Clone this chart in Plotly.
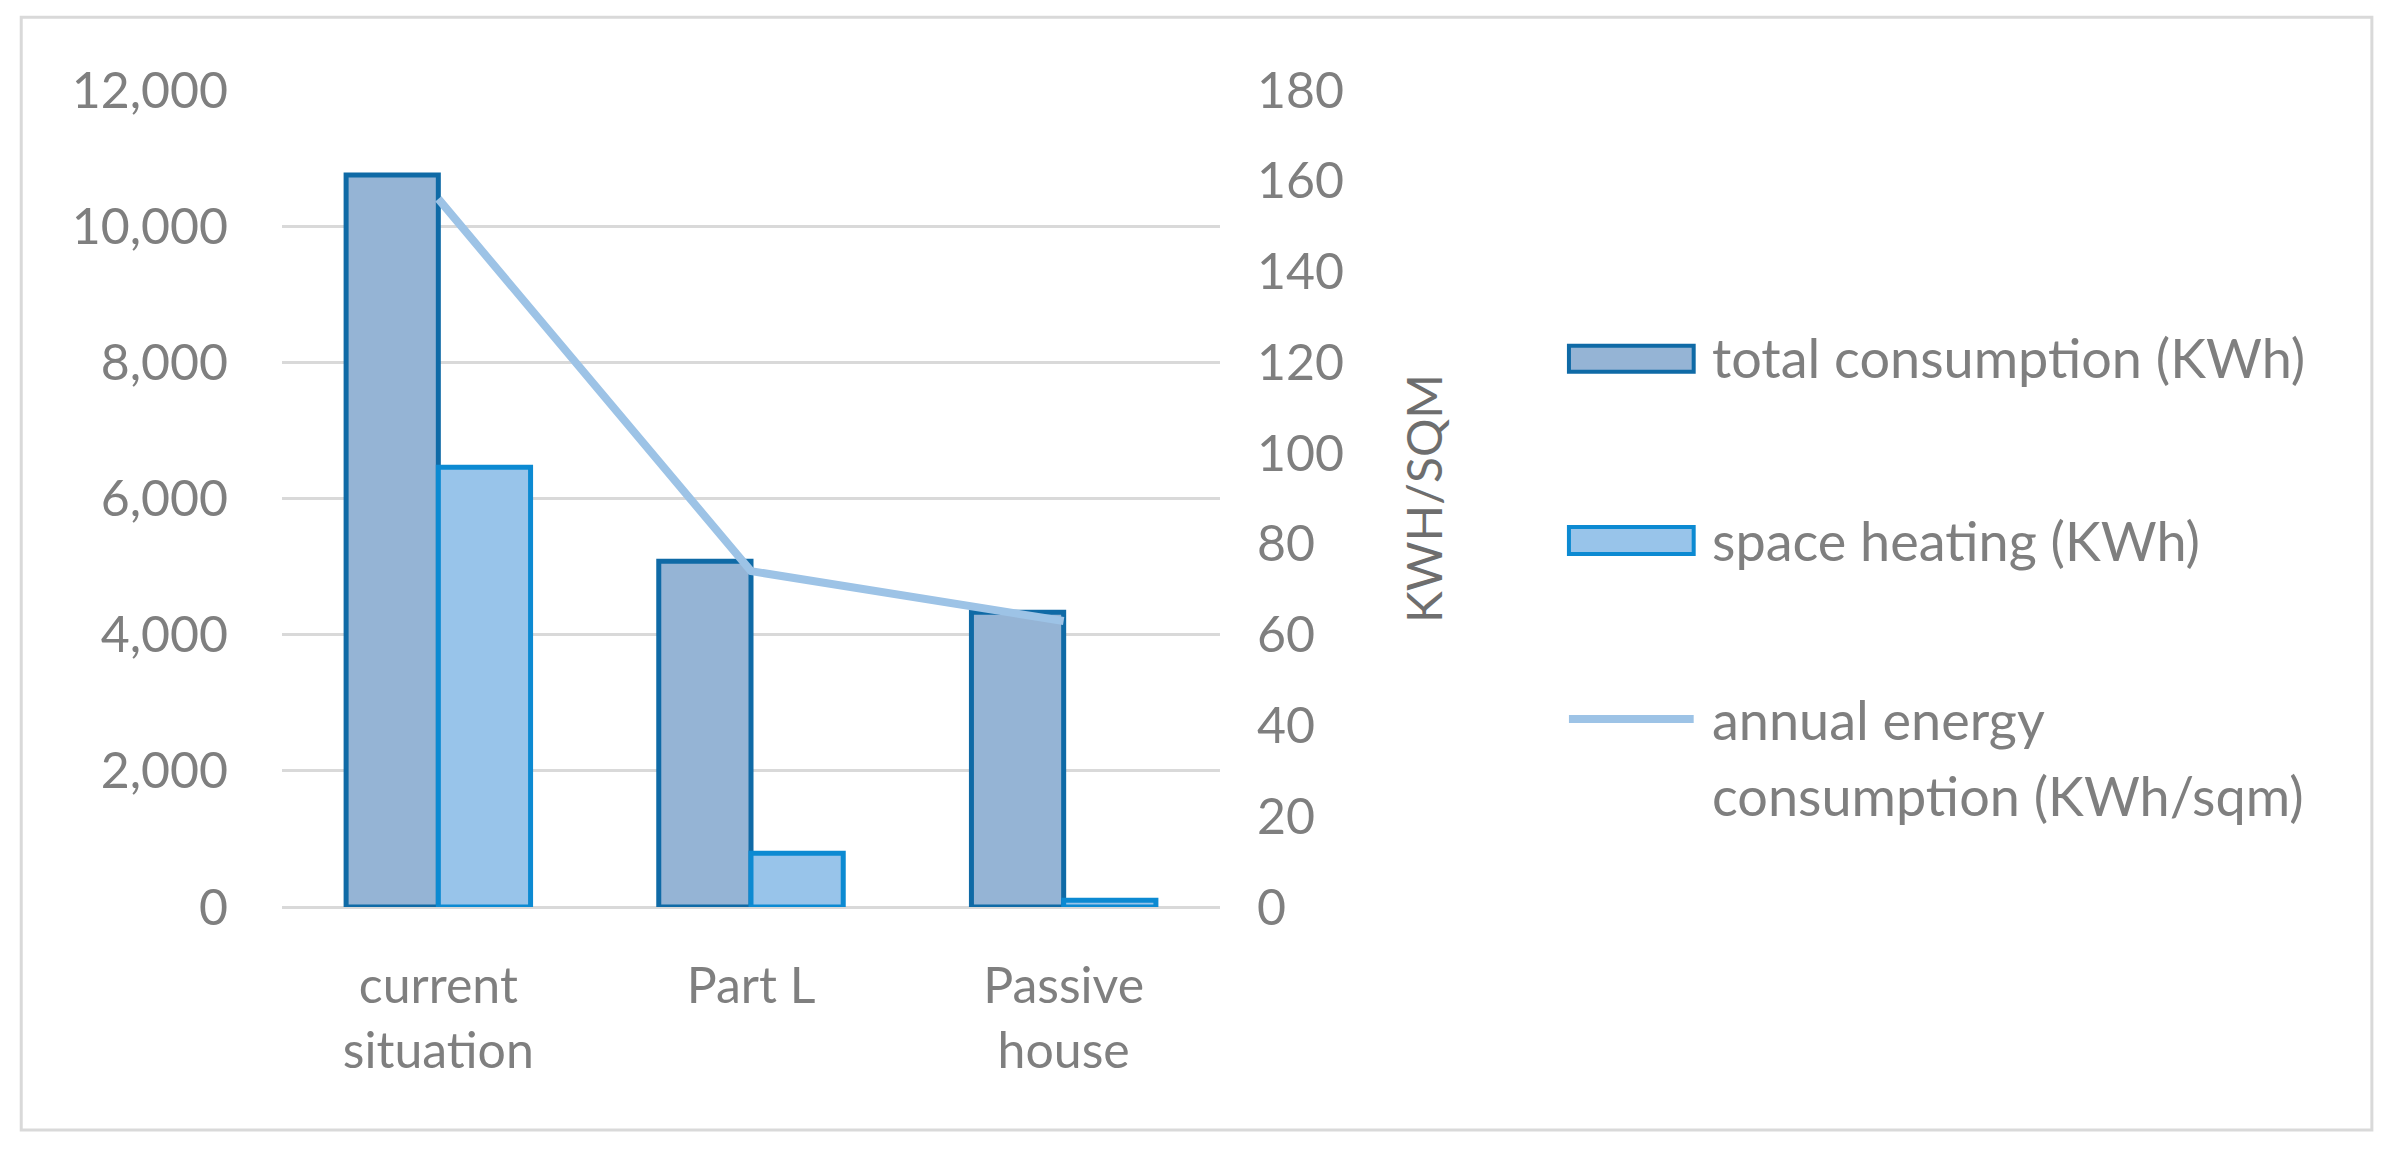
"""Energy consumption comparison: bars (KWh) plus line (KWh/sqm) on a second axis."""

import plotly.graph_objects as go

categorias = ["current<br>situation", "Part L", "Passive<br>house"]
total_kwh = [10750, 5080, 4330]
calefaccion_kwh = [6460, 790, 100]
anual_kwh_sqm = [156, 74, 63]

nombres = ["total consumption (KWh)", "space heating (KWh)",
           "annual energy", "consumption (KWh/sqm)"]

GRIS = "#7F7F7F"
FUENTE = "Lato, 'Open Sans', sans-serif"
AZUL_TOTAL = dict(fill="#95B4D5", line="#0F6AA6")
AZUL_CALEF = dict(fill="#98C4EA", line="#0C8AD2")
AZUL_LINEA = "#9DC3E6"

fig = go.Figure()
fig.add_trace(go.Bar(
    x=categorias, y=total_kwh, name=nombres[0], showlegend=False,
    marker=dict(color=AZUL_TOTAL["fill"], line=dict(color=AZUL_TOTAL["line"], width=5)),
))
fig.add_trace(go.Bar(
    x=categorias, y=calefaccion_kwh, name=nombres[1], showlegend=False,
    marker=dict(color=AZUL_CALEF["fill"], line=dict(color=AZUL_CALEF["line"], width=5)),
))
fig.add_trace(go.Scatter(
    x=categorias, y=anual_kwh_sqm, name=nombres[2] + " " + nombres[3], showlegend=False,
    mode="lines", line=dict(color=AZUL_LINEA, width=8), yaxis="y2",
))

# marco gris alrededor del gráfico
fig.add_shape(type="rect", xref="paper", yref="paper",
              x0=-0.278, x1=2.228, y0=-0.273, y1=1.089,
              line=dict(color="#D9D9D9", width=3), layer="below")

# leyenda dibujada a mano (símbolos grandes como en Excel)
lx0, lx1, tx = 1.372, 1.505, 1.522
fig.add_shape(type="rect", xref="paper", yref="paper", x0=lx0, x1=lx1, y0=0.655, y1=0.687,
              fillcolor=AZUL_TOTAL["fill"], line=dict(color=AZUL_TOTAL["line"], width=4))
fig.add_shape(type="rect", xref="paper", yref="paper", x0=lx0, x1=lx1, y0=0.432, y1=0.465,
              fillcolor=AZUL_CALEF["fill"], line=dict(color=AZUL_CALEF["line"], width=4))
fig.add_shape(type="line", xref="paper", yref="paper", x0=lx0, x1=lx1, y0=0.230, y1=0.230,
              line=dict(color=AZUL_LINEA, width=8))
for texto, yy in zip(nombres, [0.673, 0.449, 0.230, 0.136]):
    fig.add_annotation(text=texto, xref="paper", yref="paper", x=tx, y=yy,
                       xanchor="left", yanchor="middle", showarrow=False,
                       font=dict(size=54, color=GRIS))

fig.update_layout(
    width=2400, height=1152,
    margin=dict(l=274, r=1188, t=82, b=253),
    paper_bgcolor="white", plot_bgcolor="white",
    font=dict(family=FUENTE, size=50, color=GRIS),
    barmode="group", bargap=0.41, bargroupgap=0,
    showlegend=False,
    xaxis=dict(showgrid=False, showline=False, ticks="", ticklabelstandoff=45),
    yaxis=dict(range=[0, 12000], dtick=2000, tickformat=",d",
               showgrid=True, gridcolor="#D9D9D9", gridwidth=3,
               zeroline=True, zerolinecolor="#D9D9D9", zerolinewidth=3,
               showline=False, ticklabelstandoff=53),
    yaxis2=dict(range=[0, 180], dtick=20, overlaying="y", side="right",
                showgrid=False, zeroline=False, showline=False,
                ticklabelstandoff=36,
                title=dict(text="KWH/SQM", font=dict(size=48, color="#6E6E6E"), standoff=65)),
)

fig.write_html("out.html")
